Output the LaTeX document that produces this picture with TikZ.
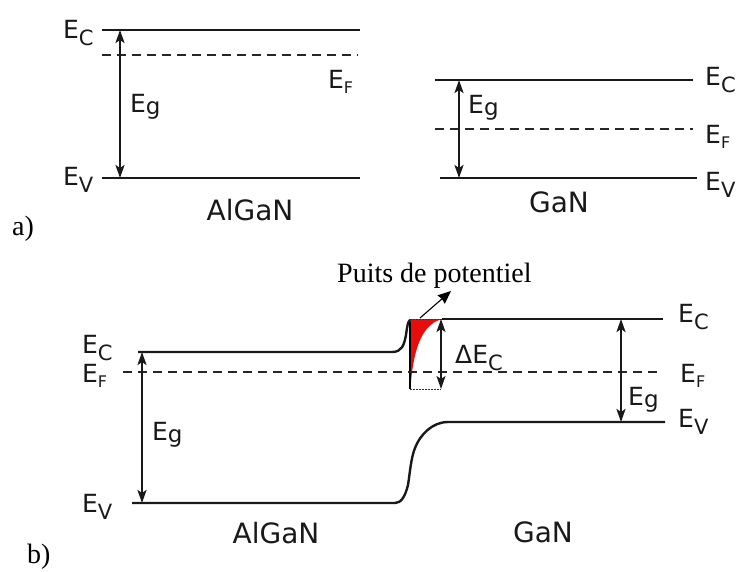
\documentclass[tikz,border=0pt]{standalone}
\usepackage{fontspec}
\setmainfont{DejaVu Sans}
\newfontfamily\seriffont{Liberation Serif}
\usetikzlibrary{arrows.meta}
\newcommand{\Ebase}{\fontsize{25}{25}\selectfont E}
\newcommand{\EC}{{\Ebase\raisebox{-7pt}{\fontsize{21}{21}\selectfont C}}}
\newcommand{\EV}{{\Ebase\raisebox{-7pt}{\fontsize{21}{21}\selectfont V}}}
\newcommand{\EF}{{\Ebase\raisebox{-5pt}{\fontsize{16}{16}\selectfont F}}}
\newcommand{\EG}{{\Ebase\raisebox{-2pt}{\fontsize{23}{23}\selectfont g}}}
\newcommand{\DEC}{{\fontsize{25}{25}\selectfont Δ}\EC}
\begin{document}
\begin{tikzpicture}[x=1pt,y=-1pt,
  lab/.style={inner sep=0pt, anchor=base west, text=black!90},
  mat/.style={inner sep=0pt, anchor=base, font=\fontsize{28}{28}\selectfont, text=black!90},
  ser/.style={inner sep=0pt, anchor=base west, font=\seriffont\fontsize{28}{28}\selectfont},
  band/.style={line width=2.4pt, black!90},
  fermi/.style={line width=2.4pt, black!85, dash pattern=on 9pt off 6pt},
  gap/.style={line width=2.2pt, black!90, {Stealth[length=13pt,width=9pt,inset=3pt]}-{Stealth[length=13pt,width=9pt,inset=3pt]}},
  dots/.style={line width=1pt, black!80, dash pattern=on 1.5pt off 1.5pt}]
\useasboundingbox (0,0) rectangle (739,571);

% ---------- a) AlGaN ----------
\draw[band] (102,30) -- (360,30);
\draw[fermi] (102,55) -- (358,55);
\draw[band] (102,178) -- (360,178);
\coordinate (a1t) at (120,30);
\coordinate (a1b) at (120,178);
\draw[gap] (a1t) -- (a1b);
\node[lab] (a1ec) at (63,38) {\EC};
\node[lab] (a1ev) at (63,185) {\EV};
\node[lab] (a1eg) at (130,112) {\EG};
\node[lab] (a1ef) at (328,88) {\EF};
\node[mat] (a1m) at (250,220) {AlGaN};

% ---------- a) GaN ----------
\draw[band] (435,80) -- (693,80);
\draw[fermi] (435,129) -- (693,129);
\draw[band] (440,178) -- (697,178);
\coordinate (a2t) at (459,80);
\coordinate (a2b) at (459,178);
\draw[gap] (a2t) -- (a2b);
\node[lab] (a2eg) at (468,113) {\EG};
\node[lab] (a2ec) at (705,85) {\EC};
\node[lab] (a2ef) at (705,143) {\EF};
\node[lab] (a2ev) at (705,190) {\EV};
\node[mat] (a2m) at (559,212) {GaN};

\node[ser] (la) at (12,235) {a)};

% ---------- b) ----------
% potential well
\fill[red!90!black!95] (409,319) -- (442,319) .. controls (428,323) and (415,336) .. (411,382) -- (409,382) -- cycle;
\draw[line width=2.5pt, black] (410,322) -- (410,389);
\draw[dots] (410,319) -- (442,319);
\draw[dots] (410,389) -- (441,389);

% conduction band
\draw[band] (138,352) -- (392,352) .. controls (402,352) and (404,345) .. (406,335) .. controls (407,327) and (408,321) .. (410,320);
\draw[band] (442,319) -- (663,319);
% Fermi level
\draw[fermi] (123,372) -- (662,372);
% valence band
\draw[band] (132,503) -- (395,503) .. controls (401,503) and (405,497) .. (408,485) .. controls (410,472) and (411,458) .. (415,448) .. controls (420,435) and (432,422) .. (448,422) -- (665,422);

% gap arrows
\coordinate (b1t) at (142,352);
\coordinate (b1b) at (142,503);
\draw[gap] (b1t) -- (b1b);
\coordinate (b2t) at (621,319);
\coordinate (b2b) at (621,422);
\draw[gap] (b2t) -- (b2b);
\coordinate (dt) at (441,319);
\coordinate (db) at (441,389);
\draw[gap, line width=1.6pt] (dt) -- (db);

% well pointer
\node[ser] (puits) at (337,282) {Puits de potentiel};
\coordinate (wp) at (420,318);
\coordinate (wq) at (451,291);
\draw[line width=1.1pt, -{Stealth[length=13pt,width=11pt,inset=1pt]}] (wp) -- (wq);

% labels
\node[lab] (b1ec) at (82,353) {\EC};
\node[lab] (b1ef) at (82,382) {\EF};
\node[lab] (b1eg) at (152,440) {\EG};
\node[lab] (b1ev) at (82,512) {\EV};
\node[lab] (b2ec) at (678,322) {\EC};
\node[lab] (b2ef) at (680,382) {\EF};
\node[lab] (b2ev) at (678,427) {\EV};
\node[lab] (b2eg) at (628,405) {\EG};
\node[lab] (dec) at (455,363) {\DEC};
\node[mat] (b1m) at (276,543) {AlGaN};
\node[mat] (b2m) at (543,542) {GaN};
\node[ser] (lb) at (27,563) {b)};
\end{tikzpicture}
\end{document}
